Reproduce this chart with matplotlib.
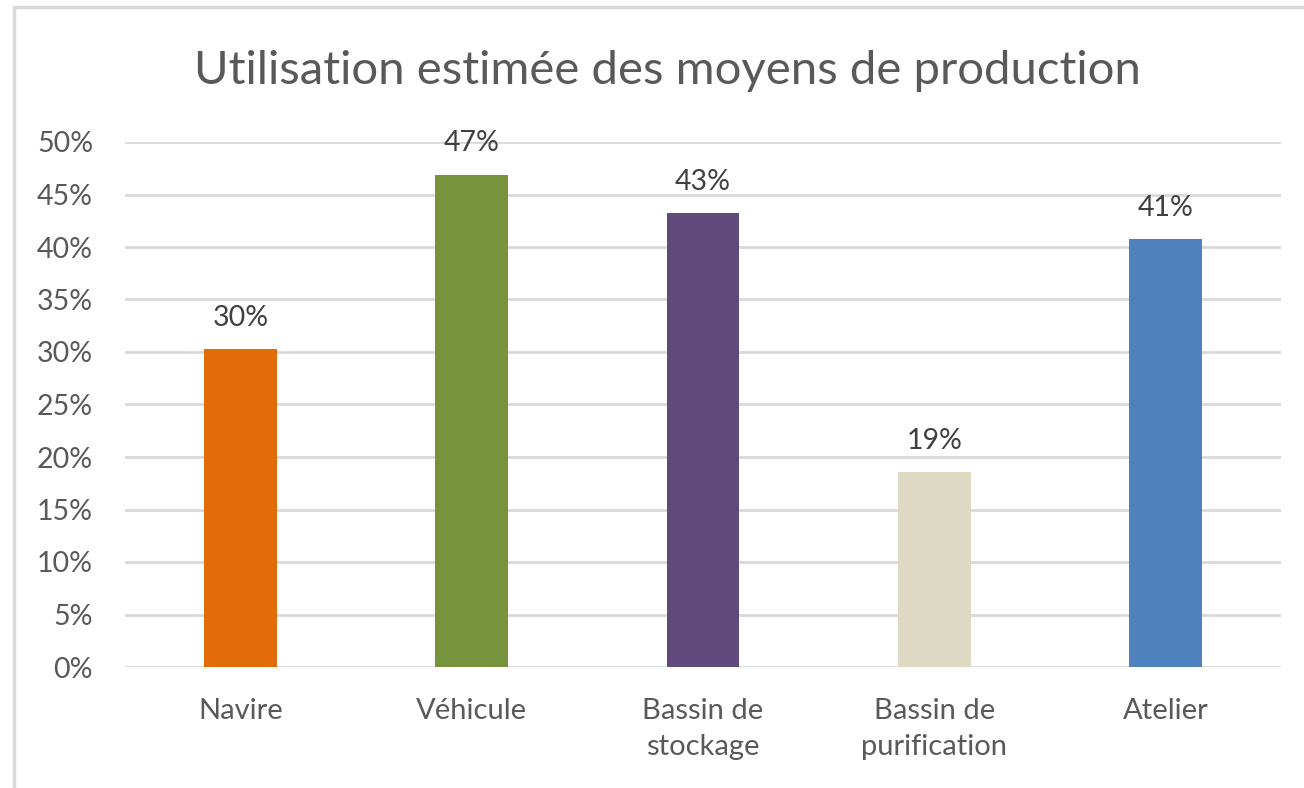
import matplotlib
matplotlib.use("Agg")
import matplotlib.pyplot as plt
from matplotlib.patches import Rectangle
from matplotlib.ticker import FuncFormatter, MultipleLocator

categories = ["Navire", "Véhicule", "Bassin de\nstockage", "Bassin de\npurification", "Atelier"]
values = [0.303, 0.469, 0.432, 0.186, 0.408]
labels = ["30%", "47%", "43%", "19%", "41%"]
colors = ["#E36C0A", "#77933C", "#604A7B", "#DDD9C3", "#4F81BD"]
title = "Utilisation estimée des moyens de production"

plt.rcParams['font.family'] = ['Lato', 'DejaVu Sans']
W, H = 1304, 788
fig = plt.figure(figsize=(W/100, H/100), dpi=100)
fig.patch.set_facecolor("white")

# chart border (right/bottom beyond image)
fig.add_artist(Rectangle((14/W, -0.05), 1.2, 1 - 7/H + 0.05, transform=fig.transFigure,
                         fill=False, edgecolor="#D9D9D9", linewidth=2.5))

ax = fig.add_axes([125/W, 1 - 667/H, (1281-125)/W, (667-142)/H])
x = range(len(categories))
ax.bar(x, values, width=0.315, color=colors, zorder=3)
ax.set_xlim(-0.5, len(categories) - 0.5)
ax.set_ylim(0, 0.5)
ax.yaxis.set_major_locator(MultipleLocator(0.05))
ax.yaxis.set_major_formatter(FuncFormatter(lambda v, p: f"{v*100:.0f}%"))
ax.grid(axis="y", color="#D9D9D9", linewidth=2, zorder=0)
ax.set_axisbelow(True)
for s in ax.spines.values():
    s.set_visible(False)
ax.tick_params(axis="y", length=0, labelsize=20.5, labelcolor="#595959", pad=23)
ax.tick_params(axis="x", length=0, labelsize=21, labelcolor="#595959", pad=22)
ax.set_xticks(list(x))
ax.set_xticklabels(categories, linespacing=1.5)

for i, (v, lab) in enumerate(zip(values, labels)):
    ax.annotate(lab, (i, v), xytext=(0, 13), textcoords="offset points",
                ha="center", va="bottom", fontsize=20.5, color="#404040")

fig.text(667/W, 1 - 71/H, title, ha="center", va="center", fontsize=34, color="#595959")

fig.savefig("out.png", dpi=100)
